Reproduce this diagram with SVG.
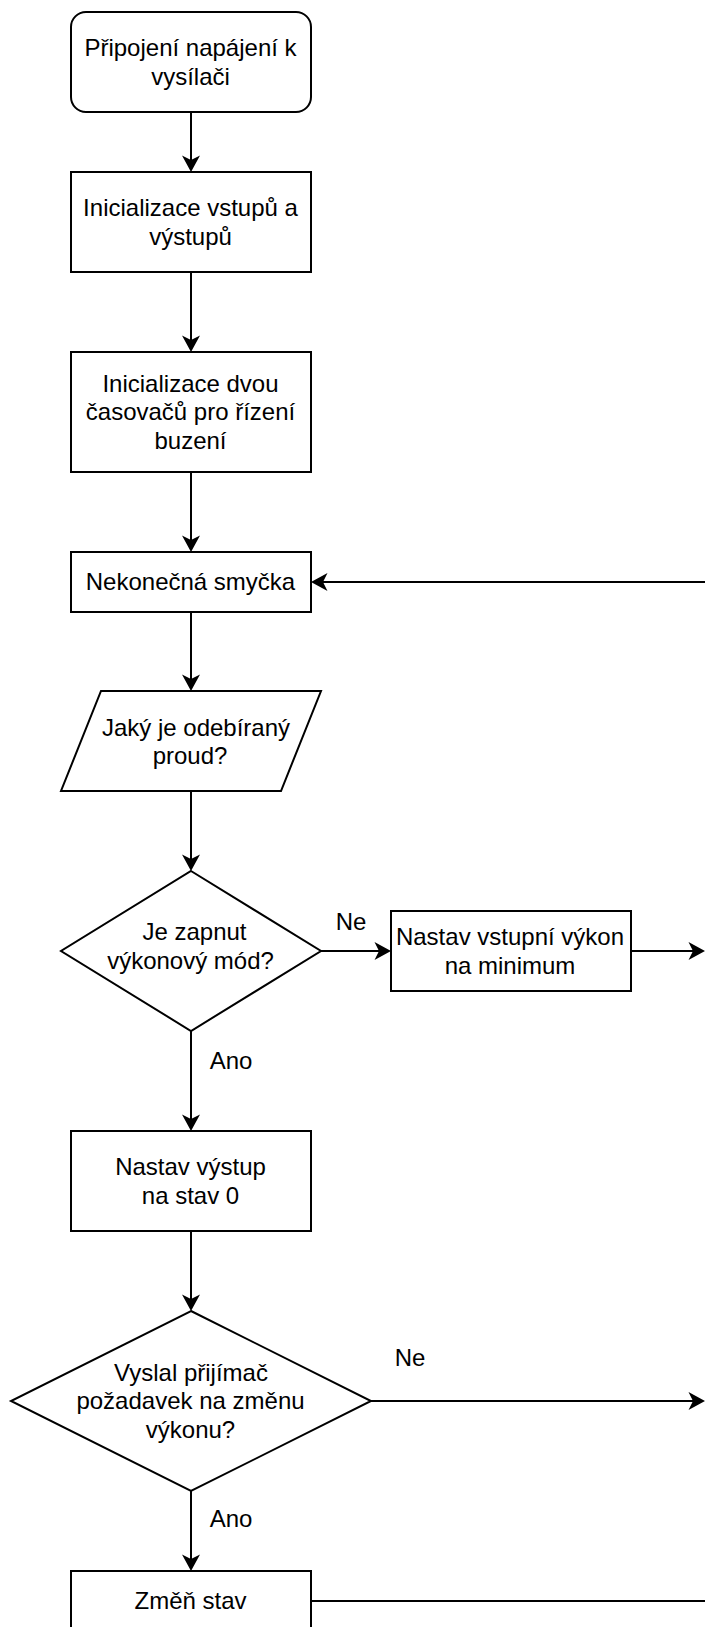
<svg xmlns="http://www.w3.org/2000/svg" width="705" height="1627" viewBox="0 0 705 1627">
  <style>
    .shape { fill: #ffffff; stroke: #000000; stroke-width: 2; }
    .edge { fill: none; stroke: #000000; stroke-width: 2; }
    .t { font-family: "Liberation Sans", Arial, Helvetica, sans-serif; font-size: 24px; fill: #000000; text-anchor: middle; }
  </style>
  <defs>
    <marker id="arrow" markerUnits="userSpaceOnUse" viewBox="0 0 20 20" markerWidth="20" markerHeight="20" refX="10" refY="10" orient="auto">
      <path d="M1.5 1 L18 10 L1.5 19 L6 10 Z" fill="#000000" stroke="none"/>
    </marker>
  </defs>
  <rect width="705" height="1627" fill="#ffffff"/>

  <g id="connectors">
    <line class="edge" x1="191" y1="112" x2="191" y2="164" marker-end="url(#arrow)"/>
    <line class="edge" x1="191" y1="272" x2="191" y2="344" marker-end="url(#arrow)"/>
    <line class="edge" x1="191" y1="472" x2="191" y2="544" marker-end="url(#arrow)"/>
    <line class="edge" x1="191" y1="612" x2="191" y2="683" marker-end="url(#arrow)"/>
    <line class="edge" x1="191" y1="791" x2="191" y2="863" marker-end="url(#arrow)"/>
    <line class="edge" x1="321" y1="951" x2="383" y2="951" marker-end="url(#arrow)"/>
    <line class="edge" x1="631" y1="951" x2="697" y2="951" marker-end="url(#arrow)"/>
    <line class="edge" x1="191" y1="1031" x2="191" y2="1123" marker-end="url(#arrow)"/>
    <line class="edge" x1="191" y1="1231" x2="191" y2="1303" marker-end="url(#arrow)"/>
    <line class="edge" x1="371" y1="1401" x2="697" y2="1401" marker-end="url(#arrow)"/>
    <line class="edge" x1="191" y1="1491" x2="191" y2="1563" marker-end="url(#arrow)"/>
    <line class="edge" x1="311" y1="1601" x2="705" y2="1601"/>
    <line class="edge" x1="705" y1="582" x2="319" y2="582" marker-end="url(#arrow)"/>
    <text class="t" x="351" y="930">Ne</text>
    <text class="t" x="231" y="1069">Ano</text>
    <text class="t" x="410" y="1366">Ne</text>
    <text class="t" x="231" y="1527">Ano</text>
  </g>

  <g id="start">
    <rect class="shape" x="71" y="12" width="240" height="100" rx="15" ry="15"/>
    <text class="t" x="190.5" y="56">Připojení napájení k</text>
    <text class="t" x="190.5" y="84.5">vysílači</text>
  </g>

  <g id="init-io">
    <rect class="shape" x="71" y="172" width="240" height="100"/>
    <text class="t" x="190.5" y="216">Inicializace vstupů a</text>
    <text class="t" x="190.5" y="244.5">výstupů</text>
  </g>

  <g id="init-timers">
    <rect class="shape" x="71" y="352" width="240" height="120"/>
    <text class="t" x="190.5" y="391.5">Inicializace dvou</text>
    <text class="t" x="190.5" y="420.3">časovačů pro řízení</text>
    <text class="t" x="190.5" y="449.1">buzení</text>
  </g>

  <g id="loop">
    <rect class="shape" x="71" y="552" width="240" height="60"/>
    <text class="t" x="190.5" y="590.3">Nekonečná smyčka</text>
  </g>

  <g id="current">
    <polygon class="shape" points="101,691 321,691 281,791 61,791"/>
    <text class="t" x="196" y="736">Jaký je odebíraný</text>
    <text class="t" x="190" y="764">proud?</text>
  </g>

  <g id="power-mode">
    <polygon class="shape" points="191,871 321,951 191,1031 61,951"/>
    <text class="t" x="194.5" y="940">Je zapnut</text>
    <text class="t" x="190.5" y="968.5">výkonový mód?</text>
  </g>

  <g id="set-min">
    <rect class="shape" x="391" y="911" width="240" height="80"/>
    <text class="t" x="510" y="945">Nastav vstupní výkon</text>
    <text class="t" x="510" y="973.5">na minimum</text>
  </g>

  <g id="set-output">
    <rect class="shape" x="71" y="1131" width="240" height="100"/>
    <text class="t" x="190.5" y="1174.9">Nastav výstup</text>
    <text class="t" x="190.5" y="1203.7">na stav 0</text>
  </g>

  <g id="request">
    <polygon class="shape" points="191,1311 371,1401 191,1491 11,1401"/>
    <text class="t" x="191" y="1380.5">Vyslal přijímač</text>
    <text class="t" x="190.5" y="1409.3">požadavek na změnu</text>
    <text class="t" x="190.5" y="1438.1">výkonu?</text>
  </g>

  <g id="change-state">
    <rect class="shape" x="71" y="1571" width="240" height="60"/>
    <text class="t" x="190.5" y="1609.3">Změň stav</text>
  </g>
</svg>
